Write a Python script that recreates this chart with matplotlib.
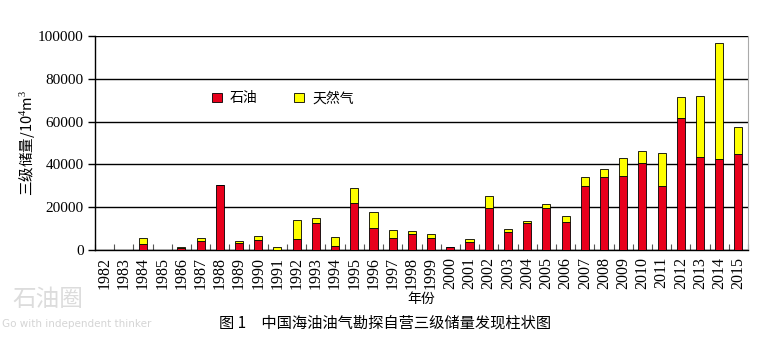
import matplotlib.pyplot as plt
import numpy as np

plt.rcParams['font.family'] = ['Liberation Serif', 'Noto Sans CJK SC']
plt.rcParams['mathtext.fontset'] = 'custom'
plt.rcParams['mathtext.rm'] = 'Liberation Serif'

years = list(range(1982, 2016))
# 三级储量, 10^4 m^3
oil = [0, 0, 2800, 0, 1100, 4200, 30300, 3100, 4700, 200,
       5100, 12600, 2000, 22000, 10400, 5600, 7600, 5600, 1200, 3700,
       19500, 8600, 12800, 19500, 13200, 29800, 34300, 34700, 40800, 29900,
       61700, 43500, 42700, 44700]
gas = [0, 0, 2600, 0, 500, 1300, 0, 1000, 1700, 1000,
       9100, 2200, 4200, 6800, 7200, 3900, 1100, 1700, 300, 1300,
       5900, 1100, 800, 2000, 2700, 4500, 3400, 8300, 5600, 15600,
       9900, 28500, 53900, 12800]

fig = plt.figure(figsize=(7.75, 3.39), dpi=100)
ax = fig.add_axes([95 / 775, 1 - 250 / 339, 653 / 775, 214 / 339])

x = np.arange(len(years))
ax.bar(x, oil, width=0.42, color='#E8001C', edgecolor='black', linewidth=0.6,
       label='石油', zorder=3)
ax.bar(x, gas, width=0.42, bottom=oil, color='#FFFF00', edgecolor='black',
       linewidth=0.6, label='天然气', zorder=3)

ax.set_xlim(-0.5, len(years) - 0.5)
ax.set_ylim(0, 100000)
ax.set_yticks(range(0, 100001, 20000))
ax.set_yticklabels([str(v) for v in range(0, 100001, 20000)],
                   family='Liberation Serif', fontsize=11)
ax.tick_params(axis='y', direction='out', length=5, width=1, pad=3)
ax.yaxis.grid(True, color='black', linewidth=1)
ax.set_axisbelow(True)

ax.set_xticks(x)
ax.set_xticklabels([str(y) for y in years], rotation=90, fontsize=11.5,
                   family='Liberation Serif')
ax.tick_params(axis='x', which='major', length=0, pad=5)
ax.set_xticks(np.arange(-0.5, len(years), 1), minor=True)
ax.tick_params(axis='x', which='minor', direction='in', length=4, width=0.8,
               color='#555555')

ax.spines['top'].set_visible(False)
ax.spines['right'].set_color('#aaaaaa')
ax.spines['left'].set_linewidth(1)
ax.spines['bottom'].set_linewidth(1)

ax.set_ylabel('三级储量/10$^4$m$^3$', fontsize=10.5,
              family=['Noto Sans CJK SC', 'Liberation Serif'])
ax.yaxis.set_label_coords(-0.088, 0.5)
ax.set_xlabel('年份', fontsize=10, family='Noto Sans CJK SC', labelpad=2)

leg = ax.legend(loc='upper left', bbox_to_anchor=(0.16, 0.8), ncol=2,
                frameon=False, handlelength=0.7, handleheight=0.7,
                columnspacing=2.6, handletextpad=0.6,
                prop={'family': 'Noto Sans CJK SC', 'size': 10})

fig.text(385 / 775, 1 - 323 / 339, '图 1　中国海油油气勘探自营三级储量发现柱状图',
         ha='center', va='center', fontsize=11, family='Noto Sans CJK SC')

# 水印
fig.text(12 / 775, 1 - 300 / 339, '石油圈', fontsize=17, color='#dcdcdc',
         family='Noto Sans CJK SC', va='center')
fig.text(2 / 775, 1 - 324 / 339, 'Go with independent thinker', fontsize=7.5,
         color='#d5d5d5', family='DejaVu Sans', va='center')

fig.savefig('out.png', dpi=100)
